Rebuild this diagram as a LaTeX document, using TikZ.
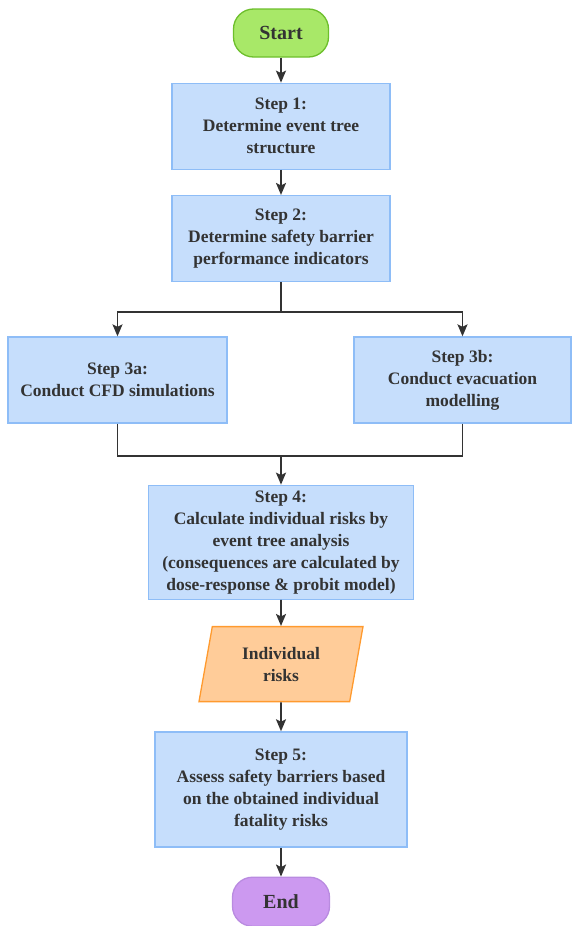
\documentclass[tikz,border=0pt]{standalone}
\usepackage{fontspec}
\setmainfont{Liberation Serif}
\usepackage{tikz}
\usetikzlibrary{arrows.meta, positioning, shapes.geometric}
\usepackage{xcolor}

\definecolor{boxfill}{HTML}{C6DEFC}
\definecolor{boxline}{HTML}{8EBDF7}
\definecolor{startfill}{HTML}{A8E868}
\definecolor{startline}{HTML}{6DBF2C}
\definecolor{datafill}{HTML}{FFCC99}
\definecolor{dataline}{HTML}{FF9A2E}
\definecolor{endfill}{HTML}{CC99F0}
\definecolor{endline}{HTML}{B98BE0}
\definecolor{ink}{HTML}{333333}

\begin{document}
\begin{tikzpicture}[x=1pt,y=1pt,node distance=25pt]
  \tikzstyle{every node}=[text=ink,font=\bfseries\fontsize{17.5}{22}\selectfont,align=center]
  \tikzstyle{stepbox}=[rectangle,draw=boxline,fill=boxfill,line width=1.3pt]
  \tikzstyle{terminal}=[rectangle,rounded corners=20pt,line width=1.3pt,
    minimum width=95pt,minimum height=48pt,font=\bfseries\fontsize{20}{24}\selectfont]
  \tikzstyle{databox}=[trapezium,trapezium left angle=72,trapezium right angle=108,
    trapezium stretches body,draw=dataline,fill=datafill,line width=1.3pt,
    minimum width=164pt,minimum height=75pt]
  \tikzstyle{link}=[draw=ink,line width=1.8pt]
  \tikzstyle{flow}=[link,-{Stealth[length=12pt,width=10pt,inset=2.5pt]}]

  \useasboundingbox (0,0) rectangle (571,-926);

  \node[terminal,draw=startline,fill=startfill] (start) at (281,-33) {Start};
  \node[stepbox,minimum width=218pt,minimum height=86pt] (step1) [below=25pt of start]
    {Step 1:\\Determine event tree\\structure};
  \node[stepbox,minimum width=218pt,minimum height=86pt] (step2) [below=of step1]
    {Step 2:\\Determine safety barrier\\performance indicators};
  \node[stepbox,minimum width=219pt,minimum height=86pt] (step3a) at (117.5,-380)
    {Step 3a:\\Conduct CFD simulations};
  \node[stepbox,minimum width=217pt,minimum height=86pt] (step3b) at (462.5,-380)
    {Step 3b:\\Conduct evacuation\\modelling};

  \coordinate[below=30pt of step2.south] (split);
  \coordinate[below=32pt of step3a.south -| step2.south] (join);

  \node[stepbox,minimum width=265pt,minimum height=114pt] (step4) [below=29pt of join]
    {Step 4:\\Calculate individual risks by\\event tree analysis\\(consequences are calculated by\\dose-response \& probit model)};
  \node[databox] (risks) [below=26pt of step4] {Individual\\risks};
  \node[stepbox,minimum width=252pt,minimum height=115pt] (step5) [below=29pt of risks]
    {Step 5:\\Assess safety barriers based\\on the obtained individual\\fatality risks};
  \node[terminal,draw=endline,fill=endfill,minimum width=97pt,minimum height=49pt] (end)
    [below=29pt of step5] {End};

  \draw[flow] (start) -- (step1);
  \draw[flow] (step1) -- (step2);
  \draw[link] (step2) -- (split);
  \draw[flow] (split) -| (step3a);
  \draw[flow] (split) -| (step3b);
  \draw[link] (step3a) |- (join);
  \draw[link] (step3b) |- (join);
  \draw[flow] (join) -- (step4);
  \draw[flow] (step4) -- (risks);
  \draw[flow] (risks) -- (step5);
  \draw[flow] (step5) -- (end);
\end{tikzpicture}
\end{document}
